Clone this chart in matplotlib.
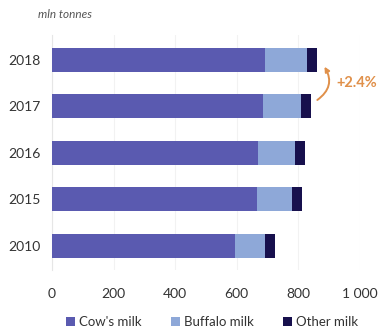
import matplotlib
matplotlib.use("Agg")
import matplotlib.pyplot as plt
from matplotlib.patches import FancyArrowPatch

years = ["2010", "2015", "2016", "2017", "2018"]
cows_milk = [595, 667, 670, 686, 693]
buffalo_milk = [98, 113, 120, 124, 136]
other_milk = [32, 33, 33, 32, 33]
growth_label = "+2.4%"

c_cow = "#5a5ab0"
c_buf = "#8ea8d8"
c_oth = "#17104d"
c_orange = "#e0904a"

plt.rcParams["font.family"] = ["Lato", "DejaVu Sans"]

fig = plt.figure(figsize=(3.89, 3.35), dpi=100)
ax = fig.add_axes([52 / 389, 65 / 335, 308 / 389, 235 / 335])

pos = list(range(len(years)))
left2 = [a + b for a, b in zip(cows_milk, buffalo_milk)]
ax.barh(pos, cows_milk, height=0.52, color=c_cow, label="Cow's milk", zorder=3)
ax.barh(pos, buffalo_milk, left=cows_milk, height=0.52, color=c_buf, label="Buffalo milk", zorder=3)
ax.barh(pos, other_milk, left=left2, height=0.52, color=c_oth, label="Other milk", zorder=3)

ax.set_xlim(0, 1000)
ax.set_ylim(-0.52, 4.53)
ax.set_yticks(pos)
ax.set_yticklabels(years)
ax.set_xticks([0, 200, 400, 600, 800, 1000])
ax.set_xticklabels(["0", "200", "400", "600", "800", "1 000"])
ax.tick_params(length=0, labelsize=10, colors="#333333", pad=8)
ax.tick_params(axis="x", pad=13)
ax.grid(axis="x", color="#f2f2f2", lw=0.8, zorder=0)
for s in ["top", "right", "bottom"]:
    ax.spines[s].set_visible(False)
ax.spines["left"].set_color("#e6e6e6")

# growth arrow between 2017 and 2018
tot17 = left2[3] + other_milk[3]
tot18 = left2[4] + other_milk[4]
arr = FancyArrowPatch((tot17 + 12, 3.1), (tot18 + 18, 3.9),
                      connectionstyle="arc3,rad=0.5", arrowstyle="-|>",
                      mutation_scale=7, color=c_orange, lw=1.4, clip_on=False)
ax.add_patch(arr)
ax.text(tot18 + 62, 3.5, growth_label, color=c_orange, fontsize=10.5,
        fontweight="bold", va="center", ha="left")

fig.text(38 / 389, 1 - 15 / 335, "mln tonnes", fontsize=8.5, style="italic",
         color="#555555", va="center")

fig.legend(loc="center", bbox_to_anchor=(0.545, 1 - 322 / 335), ncol=3,
           frameon=False, fontsize=9.5, handlelength=0.7, handleheight=0.7,
           handletextpad=0.3, columnspacing=2.2, labelcolor="#333333")

fig.savefig("out.png", dpi=100)
